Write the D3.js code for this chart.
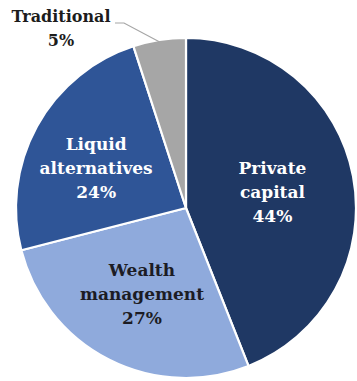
<!DOCTYPE html>
<html>
<head>
<meta charset="utf-8">
<script src="https://cdn.jsdelivr.net/npm/d3@7"></script>
<style>
  html, body { margin: 0; padding: 0; background: #ffffff; }
  svg { display: block; }
</style>
</head>
<body>
<svg id="chart" width="357" height="381"></svg>
<script>
// Revenue mix by business line (percent of total)
const segments = ["Private capital", "Wealth management", "Liquid alternatives", "Traditional"];
const labelLines = [["Private", "capital"], ["Wealth", "management"], ["Liquid", "alternatives"], ["Traditional"]];
const shares = [44, 27, 24, 5];
const colors = ["#1f3864", "#8faadc", "#2f5597", "#a6a6a6"];
const textColors = ["#ffffff", "#1c1c24", "#ffffff", "#1c1c1c"];

const width = 357, height = 381;
const cx = 186, cy = 208, radius = 170;
const lineH = 24;
const fontFamily = "'DejaVu Serif', serif";

const svg = d3.select("#chart");
const g = svg.append("g").attr("transform", `translate(${cx},${cy})`);

const pie = d3.pie().sort(null).value(d => d.value);
const data = pie(segments.map((name, i) => ({ name, value: shares[i], i })));

const arc = d3.arc().innerRadius(0).outerRadius(radius);

g.selectAll("path.slice")
  .data(data)
  .join("path")
  .attr("class", "slice")
  .attr("d", arc)
  .attr("fill", d => colors[d.data.i])
  .attr("stroke", "#ffffff")
  .attr("stroke-width", 2.2)
  .attr("stroke-linejoin", "round");

// Inside labels: placed along each slice's mid-angle
const insideRadius = [88, 97, 98];
const insideNudge = [[0, 0], [0, 0], [-4, 7]];

data.filter(d => d.data.i < 3).forEach(d => {
  const i = d.data.i;
  const la = d3.arc().innerRadius(insideRadius[i]).outerRadius(insideRadius[i]);
  const [x, y] = la.centroid(d);
  const lines = labelLines[i].concat([d.data.value + "%"]);
  const t = g.append("text")
    .attr("text-anchor", "middle")
    .attr("font-family", fontFamily)
    .attr("font-weight", "bold")
    .attr("font-size", 17)
    .attr("fill", textColors[i]);
  lines.forEach((ln, k) => {
    t.append("tspan")
      .attr("x", x + insideNudge[i][0])
      .attr("y", y + insideNudge[i][1] + 6 + (k - (lines.length - 1) / 2) * lineH)
      .text(ln);
  });
});

// Outside label with leader line for the small slice
const small = data[3];
const edge = d3.arc().innerRadius(radius - 2).outerRadius(radius - 2).centroid(small);
const labelX = -125, labelY = -186;
const elbow = [labelX + 63, labelY + 1];

g.append("polyline")
  .attr("points", [[labelX + 54, labelY + 1], elbow, edge].map(p => p.join(",")).join(" "))
  .attr("fill", "none")
  .attr("stroke", "#a6a6a6")
  .attr("stroke-width", 1.2);

const tt = g.append("text")
  .attr("text-anchor", "middle")
  .attr("font-family", fontFamily)
  .attr("font-weight", "bold")
  .attr("font-size", 16)
  .attr("fill", textColors[3]);
labelLines[3].concat([small.data.value + "%"]).forEach((ln, k) => {
  tt.append("tspan")
    .attr("x", labelX)
    .attr("y", labelY + k * lineH)
    .text(ln);
});
</script>
</body>
</html>
